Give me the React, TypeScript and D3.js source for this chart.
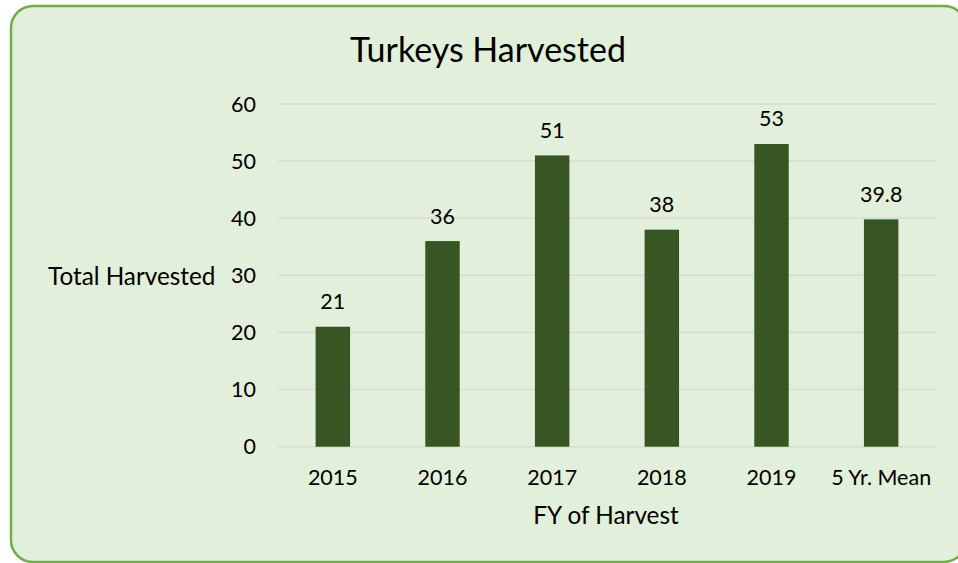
import React from "react";
import * as d3 from "d3";

const categories = ["2015", "2016", "2017", "2018", "2019", "5 Yr. Mean"];
const values = [21, 36, 51, 38, 53, 39.8];
const valueLabels = ["21", "36", "51", "38", "53", "39.8"];
const yTicks = [0, 10, 20, 30, 40, 50, 60];

const W = 958;
const H = 563;
const FONT = "Lato, 'Open Sans', sans-serif";

export default function App() {
  const x = d3
    .scaleBand<string>()
    .domain(categories)
    .range([278, 936])
    .paddingInner(0.686)
    .paddingOuter(0.343);
  const y = d3.scaleLinear().domain([0, 60]).range([446.7, 104]);

  return (
    <svg
      width={W}
      height={H}
      style={{ position: "absolute", left: 0, top: 0, display: "block" }}
    >
      <rect x={0} y={0} width={W} height={H} fill="#ffffff" />
      <rect
        x={11}
        y={6}
        width={955}
        height={556}
        rx={22}
        ry={22}
        fill="#E2EFDA"
        stroke="#70AD47"
        strokeWidth={2.5}
      />
      <text
        x={488}
        y={62}
        textAnchor="middle"
        fontFamily={FONT}
        fontSize={34}
        fill="#000000"
      >
        Turkeys Harvested
      </text>
      {yTicks.map((t) => (
        <g key={t}>
          <line
            x1={278}
            x2={936}
            y1={y(t)}
            y2={y(t)}
            stroke="#D9D9D9"
            strokeWidth={1.5}
          />
          <text
            x={256}
            y={y(t)}
            dy="0.35em"
            textAnchor="end"
            fontFamily={FONT}
            fontSize={21.5}
            fill="#000000"
          >
            {t}
          </text>
        </g>
      ))}
      {categories.map((c, i) => (
        <g key={c}>
          <rect
            x={x(c)}
            y={y(values[i])}
            width={x.bandwidth()}
            height={y(0) - y(values[i])}
            fill="#375623"
          />
          <text
            x={(x(c) as number) + x.bandwidth() / 2}
            y={y(values[i]) - 17.5}
            textAnchor="middle"
            fontFamily={FONT}
            fontSize={21.5}
            fill="#000000"
          >
            {valueLabels[i]}
          </text>
          <text
            x={(x(c) as number) + x.bandwidth() / 2}
            y={485}
            textAnchor="middle"
            fontFamily={FONT}
            fontSize={21.5}
            fill="#000000"
          >
            {c}
          </text>
        </g>
      ))}
      <text
        x={48}
        y={285}
        textAnchor="start"
        fontFamily={FONT}
        fontSize={24.3}
        fill="#000000"
      >
        Total Harvested
      </text>
      <text
        x={606}
        y={524}
        textAnchor="middle"
        fontFamily={FONT}
        fontSize={24.3}
        fill="#000000"
      >
        FY of Harvest
      </text>
    </svg>
  );
}
